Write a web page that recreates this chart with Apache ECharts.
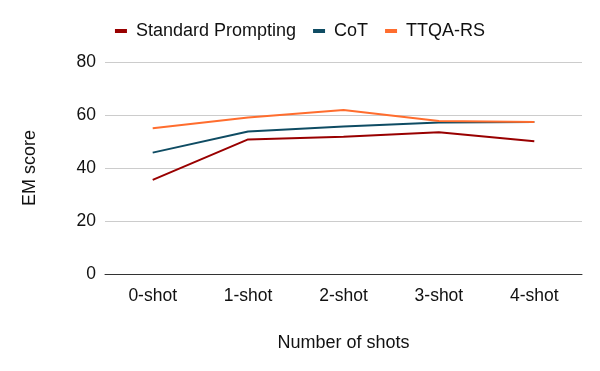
<!DOCTYPE html>
<html>
<head>
<meta charset="utf-8">
<script src="https://cdn.jsdelivr.net/npm/echarts@6/dist/echarts.min.js"></script>
<style>
html, body { margin: 0; padding: 0; background: #fff; }
#chart { width: 600px; height: 371px; }
</style>
</head>
<body>
<div id="chart"></div>
<script>
var shots = ['0-shot', '1-shot', '2-shot', '3-shot', '4-shot'];
var standard = [35.5, 50.8, 51.8, 53.5, 50.1];
var cot = [45.8, 53.8, 55.7, 57.2, 57.4];
var ttqa = [55.0, 59.1, 61.9, 57.7, 57.4];

var FONT = 'Liberation Sans, Arial, sans-serif';

function line(name, data, color)
{
    return {
        name: name,
        type: 'line',
        data: data,
        symbol: 'none',
        lineStyle: { color: color, width: 2 },
        itemStyle: { color: color }
    };
}

var chart = echarts.init(document.getElementById('chart'));
chart.setOption({
    animation: false,
    textStyle: { fontFamily: FONT },
    legend: {
        top: 17,
        left: 'center',
        itemWidth: 12,
        itemHeight: 4,
        itemGap: 17,
        icon: 'rect',
        textStyle: { fontSize: 18, color: '#111', fontFamily: FONT, padding: [0, 0, 0, 4] },
        data: ['Standard Prompting', 'CoT', 'TTQA-RS']
    },
    grid: { left: 105, right: 18, top: 62, bottom: 97 },
    xAxis: {
        type: 'category',
        data: shots,
        name: 'Number of shots',
        nameLocation: 'middle',
        nameGap: 60,
        nameTextStyle: { fontSize: 18, color: '#111', fontFamily: FONT },
        axisLine: { lineStyle: { color: '#333', width: 1 } },
        axisTick: { show: false },
        axisLabel: { fontSize: 17.5, color: '#111', margin: 13, fontFamily: FONT }
    },
    yAxis: {
        type: 'value',
        min: 0,
        max: 80,
        interval: 20,
        name: 'EM score',
        nameLocation: 'middle',
        nameGap: 66,
        nameTextStyle: { fontSize: 18, color: '#111', fontFamily: FONT },
        axisLine: { show: false },
        axisTick: { show: false },
        axisLabel: { fontSize: 17.5, color: '#111', margin: 9, fontFamily: FONT }
    ,
        splitLine: { lineStyle: { color: '#ccc', width: 1 } }
    },
    series: [
        line('Standard Prompting', standard, '#990000'),
        line('CoT', cot, '#0f4c63'),
        line('TTQA-RS', ttqa, '#ff6d2e')
    ]
});
</script>
</body>
</html>
